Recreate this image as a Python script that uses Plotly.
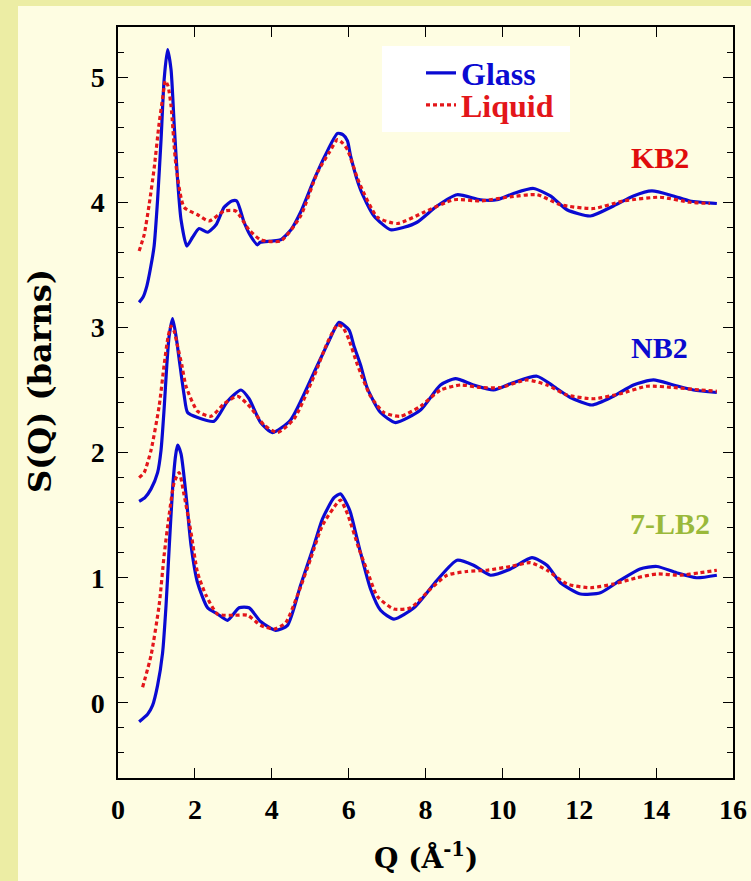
import plotly.graph_objects as go

# ---- data (Q in 1/Angstrom, S(Q) in barns, offset curves) ----
kb2_glass_q = [0.55,0.65,0.75,0.85,0.94,1.03,1.12,1.20,1.29,1.38,1.46,1.55,1.64,1.79,1.94,2.11,2.33,2.55,2.76,2.96,
               3.09,3.28,3.45,3.63,3.70,4.00,4.23,4.50,4.75,5.10,5.40,5.71,5.85,5.97,6.05,6.31,6.66,7.09,7.44,7.78,
               8.30,8.82,9.43,9.86,10.29,10.81,11.25,11.68,12.29,12.89,13.41,13.89,14.45,14.88,15.58]
kb2_glass_s = [3.20,3.24,3.33,3.48,3.65,4.02,4.50,4.98,5.22,5.06,4.63,4.18,3.86,3.65,3.72,3.79,3.76,3.82,3.96,4.01,
               4.01,3.84,3.73,3.66,3.68,3.69,3.70,3.78,3.92,4.18,4.38,4.55,4.54,4.49,4.37,4.10,3.89,3.78,3.80,3.84,
               3.97,4.06,4.02,4.02,4.07,4.11,4.05,3.94,3.89,3.97,4.05,4.09,4.05,4.01,3.99]

kb2_liquid_q = [0.55,0.68,0.81,0.94,1.07,1.17,1.23,1.30,1.38,1.51,1.72,2.07,2.37,2.76,3.06,3.41,3.71,4.23,4.75,5.19,
                5.50,5.71,5.85,5.97,6.27,6.75,7.27,7.96,8.74,9.43,10.12,10.90,11.51,12.37,13.15,14.10,14.88,15.40]
kb2_liquid_s = [3.61,3.74,3.98,4.27,4.63,4.85,4.97,4.93,4.77,4.29,3.96,3.90,3.85,3.93,3.93,3.78,3.70,3.69,3.89,4.24,
                4.40,4.50,4.47,4.42,4.16,3.88,3.83,3.92,4.02,4.01,4.04,4.06,3.98,3.95,4.01,4.04,4.00,3.99]

nb2_glass_q = [0.55,0.70,0.86,1.03,1.12,1.20,1.27,1.33,1.42,1.51,1.59,1.72,1.81,2.07,2.50,2.85,3.20,3.41,3.71,4.02,
               4.49,5.10,5.50,5.75,6.01,6.14,6.31,6.49,6.83,7.22,7.87,8.39,8.78,9.25,9.77,10.29,10.90,11.33,11.77,12.33,
               12.89,13.41,13.93,14.45,14.97,15.58]
nb2_glass_s = [1.61,1.64,1.71,1.84,2.02,2.35,2.70,2.93,3.07,2.93,2.75,2.46,2.32,2.28,2.25,2.41,2.50,2.43,2.24,2.16,
               2.26,2.64,2.90,3.04,2.98,2.85,2.70,2.51,2.32,2.24,2.34,2.54,2.59,2.54,2.50,2.56,2.61,2.53,2.44,2.38,
               2.45,2.54,2.58,2.54,2.50,2.48]

nb2_liquid_q = [0.55,0.68,0.86,1.07,1.20,1.30,1.38,1.46,1.55,1.66,1.77,2.07,2.42,2.76,3.11,3.45,3.80,4.15,4.58,5.10,
                5.45,5.71,5.85,6.01,6.23,6.57,6.92,7.35,7.87,8.39,8.91,9.43,9.95,10.64,11.16,11.68,12.37,13.07,13.76,14.45,
                15.14,15.58]
nb2_liquid_s = [1.80,1.84,2.02,2.37,2.70,2.92,3.01,2.97,2.85,2.70,2.53,2.33,2.29,2.39,2.45,2.36,2.22,2.16,2.27,2.61,
                2.88,3.02,3.00,2.90,2.70,2.45,2.32,2.29,2.37,2.50,2.54,2.52,2.52,2.58,2.54,2.46,2.43,2.47,2.53,2.52,
                2.50,2.49]

lb2_glass_q = [0.55,0.77,0.90,1.03,1.16,1.25,1.33,1.42,1.50,1.55,1.64,1.77,1.90,2.07,2.33,2.59,2.85,3.15,3.41,3.71,
               4.10,4.41,4.75,5.10,5.32,5.62,5.79,5.97,6.05,6.31,6.57,6.83,7.18,7.70,8.30,8.82,9.25,9.69,10.21,10.77,
               11.16,11.51,12.03,12.55,13.07,13.58,14.02,14.53,15.05,15.58]
lb2_glass_s = [-0.15,-0.09,-0.02,0.14,0.40,0.78,1.23,1.71,1.98,2.06,1.99,1.66,1.26,0.96,0.76,0.71,0.66,0.76,0.76,0.65,
               0.58,0.62,0.94,1.26,1.47,1.64,1.67,1.58,1.52,1.20,0.91,0.74,0.67,0.76,0.98,1.14,1.10,1.02,1.07,1.16,
               1.10,0.96,0.87,0.88,0.98,1.07,1.09,1.04,1.00,1.02]

lb2_liquid_q = [0.64,0.86,1.07,1.20,1.33,1.46,1.59,1.72,1.90,2.07,2.29,2.59,3.02,3.37,3.71,4.06,4.36,4.67,5.01,5.32,
                5.71,5.79,5.97,6.27,6.49,6.75,7.18,7.61,8.13,8.56,9.08,9.60,10.21,10.73,11.16,11.68,12.29,12.89,13.50,14.02,
                14.62,15.14,15.58]
lb2_liquid_s = [0.125,0.38,0.78,1.18,1.50,1.76,1.84,1.66,1.36,1.04,0.86,0.71,0.70,0.70,0.62,0.59,0.64,0.86,1.15,1.42,
                1.60,1.62,1.51,1.23,1.05,0.85,0.75,0.76,0.91,1.02,1.05,1.06,1.09,1.12,1.06,0.95,0.92,0.95,1.00,1.03,
                1.02,1.04,1.06]

x_ticks = [0, 2, 4, 6, 8, 10, 12, 14, 16]
y_ticks = [0, 1, 2, 3, 4, 5]
labels = [("KB2", 14.1, 4.36, "#E00C0C"), ("NB2", 14.1, 2.84, "#0A0ACF"), ("7-LB2", 14.36, 1.43, "#9AB93A")]

BLUE = "#0A0AD2"
RED = "#E3161A"
FONT = "Liberation Serif"
WIDE = "DejaVu Serif"

fig = go.Figure()

series = [
    (kb2_glass_q, kb2_glass_s, "glass", True),
    (kb2_liquid_q, kb2_liquid_s, "liquid", True),
    (nb2_glass_q, nb2_glass_s, "glass", False),
    (nb2_liquid_q, nb2_liquid_s, "liquid", False),
    (lb2_glass_q, lb2_glass_s, "glass", False),
    (lb2_liquid_q, lb2_liquid_s, "liquid", False),
]
for q, s, kind, show in series:
    if kind == "glass":
        line = dict(color=BLUE, width=3.2, shape="spline", smoothing=0.6)
        name = "<span style='color:%s'>Glass</span>" % BLUE
        leg = "legend"
    else:
        line = dict(color=RED, width=3.2, dash="4px,3px", shape="spline", smoothing=0.6)
        name = "<span style='color:%s'>Liquid</span>" % RED
        leg = "legend2"
    fig.add_trace(go.Scatter(x=q, y=s, mode="lines", line=line, name=name,
                             showlegend=show, legend=leg, hoverinfo="skip"))

for text, x, y, c in labels:
    fig.add_annotation(x=x, y=y, xref="x", yref="y", text=text, showarrow=False,
                       font=dict(family=FONT, size=30, color=c, weight="bold"))

# axis titles
fig.add_annotation(x=0.5, y=-0.105, xref="paper", yref="paper", text="Q (Å<sup>-1</sup>)",
                   showarrow=False, yanchor="middle",
                   font=dict(family=WIDE, size=28, color="black", weight="bold"))
fig.add_annotation(x=-0.127, y=0.5286, xref="paper", yref="paper", text="S(Q) (barns)",
                   showarrow=False, textangle=-90, xanchor="center", yanchor="middle",
                   font=dict(family=WIDE, size=32, color="black", weight="bold"))

# page background: cream panel over a yellow-green frame
fig.add_shape(type="rect", xref="paper", yref="paper", x0=-0.1626, x1=1.2, y0=-0.3, y1=1.028,
              fillcolor="#FEFDE2", line=dict(width=0), layer="below")
# white legend panel
fig.add_shape(type="rect", xref="paper", yref="paper", x0=0.4293, x1=0.735, y0=0.8602, y1=0.9747,
              fillcolor="white", line=dict(width=0), layer="above")

axis_common = dict(showline=True, linecolor="black", linewidth=1.5, mirror="ticks",
                   ticks="inside", ticklen=10, tickwidth=1.3, tickcolor="black",
                   showgrid=False, zeroline=False,
                   tickfont=dict(family=FONT, size=28, color="black", weight="bold"))

fig.update_xaxes(range=[0, 16], tickvals=x_ticks, ticklabelstandoff=6, **axis_common)
fig.update_yaxes(range=[-0.6, 5.4], tickvals=y_ticks, ticklabelstandoff=6,
                 minor=dict(dtick=0.2, tick0=0, ticks="inside", ticklen=6, tickcolor="black", tickwidth=1.3),
                 **axis_common)

leg_common = dict(x=0.4927, xanchor="left", yanchor="middle", bgcolor="rgba(0,0,0,0)", borderwidth=0,
                  font=dict(family=FONT, size=32, weight="bold"))
fig.update_layout(
    width=751, height=881,
    margin=dict(l=118, r=18, t=27, b=103, autoexpand=False),
    paper_bgcolor="#ECEDA4",
    plot_bgcolor="#FEFDE2",
    showlegend=True,
    legend=dict(y=0.9387, **leg_common),
    legend2=dict(y=0.8961, **leg_common),
)

fig.write_html("out.html")
